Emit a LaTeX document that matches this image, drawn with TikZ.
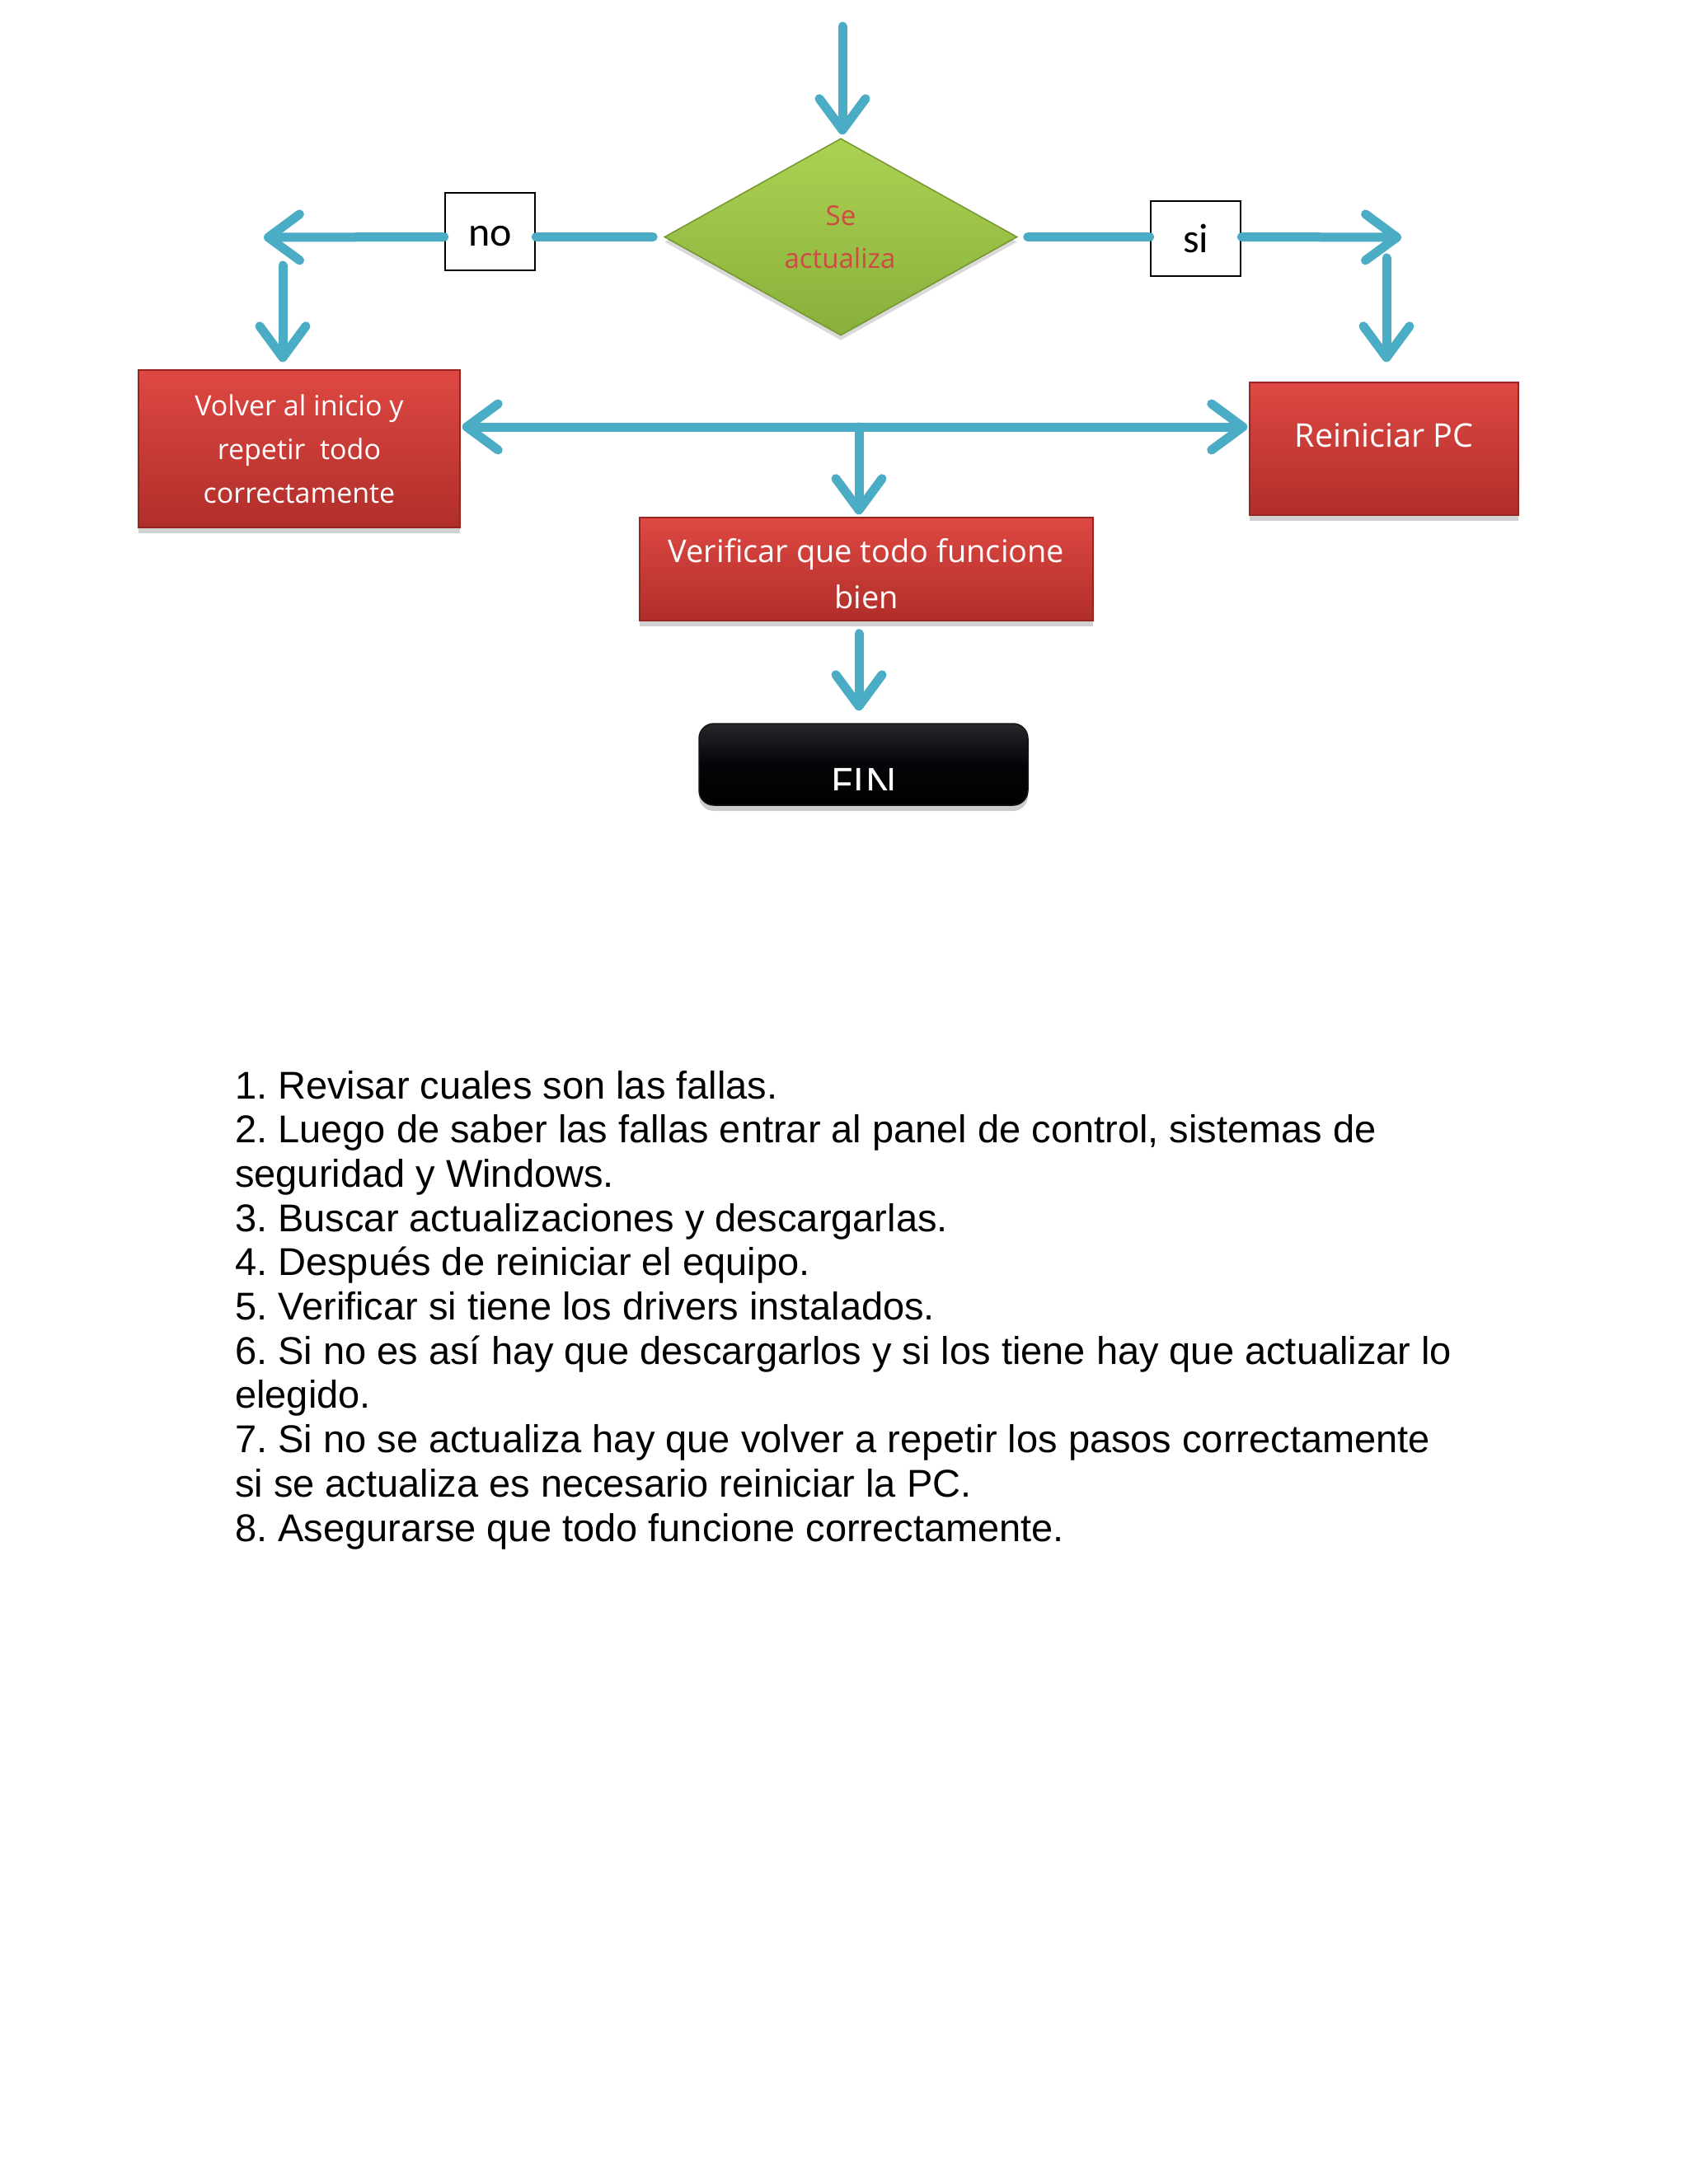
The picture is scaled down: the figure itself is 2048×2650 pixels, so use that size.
\documentclass[tikz,border=0pt]{standalone}
\usepackage{fontspec}
\setmainfont{Liberation Sans}
\newfontfamily\boxfont{Open Sans}
\newfontfamily\lblfont{Carlito}
\usetikzlibrary{arrows.meta,shapes.geometric,shadows}
\definecolor{arrowblue}{HTML}{4BACC6}
\definecolor{redtop}{RGB}{222,72,66}
\definecolor{redbot}{RGB}{176,46,42}
\definecolor{redline}{RGB}{150,38,36}
\definecolor{greentop}{RGB}{172,210,84}
\definecolor{greenbot}{RGB}{136,176,58}
\definecolor{greenline}{RGB}{118,150,48}
\definecolor{dectext}{RGB}{210,72,66}
\tikzset{
  conn/.style={draw=arrowblue, line width=11pt, line cap=round},
  arr/.style={-{Straight Barb[length=38pt,width=56pt,round]}},
  dblarr/.style={{Straight Barb[length=38pt,width=56pt,round]}-{Straight Barb[length=38pt,width=56pt,round]}},
  redbox/.style={rectangle, inner sep=0pt, top color=redtop, bottom color=redbot,
    draw=redline, line width=1.5pt,
    drop shadow={shadow xshift=0pt, shadow yshift=-7pt, opacity=0.18, fill=black}},
  boxtext/.style={text=white, inner sep=0pt, font=\boxfont},
  lblbox/.style={rectangle, draw=black, line width=2.5pt, fill=white, inner sep=0pt,
    minimum width=109pt, text height=34pt, text depth=0pt, font=\lblfont\fontsize{50}{56}\selectfont},
  listline/.style={anchor=base west, inner sep=0pt, font=\fontsize{47}{54}\selectfont}
}
\frenchspacing
\begin{document}
\begin{tikzpicture}[x=1pt,y=-1pt]
\useasboundingbox (0,0) rectangle (2048,2650);
\fill[white] (0,0) rectangle (2048,2650);

% decision
\node[diamond, minimum width=428pt, minimum height=239pt, inner sep=0pt,
  top color=greentop, bottom color=greenbot, draw=greenline, line width=1.5pt,
  drop shadow={shadow xshift=0pt, shadow yshift=-6pt, opacity=0.15, fill=black}]
  (dec) at (1020,287.5) {};
\node[anchor=base, inner sep=0pt, text=dectext, font=\boxfont\fontsize{33}{38}\selectfont] (dse) at (1020,273) {Se};
\node[anchor=base, inner sep=0pt, text=dectext, font=\boxfont\fontsize{33}{38}\selectfont] (dact) at (1019,325) {actualiza};

% labels
\node[lblbox, minimum height=94pt] (no) at (594.5,281) {no};
\node[lblbox, minimum height=91pt] (si) at (1450.5,289.5) {si};

% process boxes
\node[redbox, minimum width=390pt, minimum height=191pt, align=center,
  boxtext, font=\boxfont\fontsize{34}{53}\selectfont] (volver) at (363,544.5)
  {Volver al inicio y\\repetir\ \ todo\\correctamente};
\node[redbox, minimum width=326pt, minimum height=161pt] (reiniciar) at (1679,544.5) {};
\node[boxtext, anchor=base, font=\boxfont\fontsize{39.5}{45}\selectfont] (treiniciar) at (1679,542) {Reiniciar PC};
\node[redbox, minimum width=550pt, minimum height=125pt] (verificar) at (1051,690.5) {};
\node[boxtext, anchor=base, font=\boxfont\fontsize{38}{44}\selectfont] (tver1) at (1051,682) {Verificar que todo funcione};
\node[boxtext, anchor=base, font=\boxfont\fontsize{38}{44}\selectfont] (tver2) at (1051,738) {bien};

% FIN
\node[rectangle, rounded corners=18pt, minimum width=399pt, minimum height=99pt, inner sep=0pt,
  top color={rgb,255:red,40;green,38;blue,42}, bottom color=black, middle color={rgb,255:red,6;green,4;blue,8},
  draw={rgb,255:red,20;green,20;blue,20}, line width=1.5pt,
  drop shadow={shadow xshift=0pt, shadow yshift=-7pt, opacity=0.2, fill=black}]
  (fin) at (1047.5,927.5) {};
\begin{scope}
  \clip (848,878) rectangle (1247,958);
  \node[boxtext, anchor=north, font=\boxfont\fontsize{52}{60}\selectfont] (tfin) at (1048,932) {FIN};
\end{scope}

% coordinates for connector ends
\coordinate (top) at (1022,32);
\coordinate (lTip) at (320,288);
\coordinate (lDown) at (343,322);
\coordinate (rTip) at (1700,288);
\coordinate (rDown) at (1682,313);
\coordinate (hub) at (1042,518);

% connectors
\draw[conn,arr,shorten >=4pt] (top) -- (top |- dec.north);
\draw[conn] ([xshift=-13pt]dec.west) -- (dec.west -| no.east);
\draw[conn,arr] (dec.west -| no.west) -- (lTip);
\draw[conn,arr,shorten >=9pt] (lDown) -- (lDown |- volver.north);
\draw[conn] ([xshift=12pt]dec.east) -- (dec.east -| si.west);
\draw[conn,arr] (dec.east -| si.east) -- (rTip);
\draw[conn,arr,shorten >=24pt] (rDown) -- (rDown |- reiniciar.north);
\draw[conn,dblarr,shorten <=2pt,shorten >=2pt] (volver.east |- hub) -- (reiniciar.west |- hub);
\draw[conn,arr,shorten >=3pt] (hub) -- (hub |- verificar.north);
\draw[conn,arr,shorten <=15pt,shorten >=15pt] (verificar.south -| hub) -- (fin.north -| hub);

% numbered list
\node[listline] (l1) at (285,1333) {1. Revisar cuales son las fallas.};
\node[listline] (l2) at (285,1386.7) {2. Luego de saber las fallas entrar al panel de control, sistemas de};
\node[listline] (l3) at (285,1440.4) {seguridad y Windows.};
\node[listline] (l4) at (285,1494.1) {3. Buscar actualizaciones y descargarlas.};
\node[listline] (l5) at (285,1547.8) {4. Después de reiniciar el equipo.};
\node[listline] (l6) at (285,1601.5) {5. Verificar si tiene los drivers instalados.};
\node[listline] (l7) at (285,1655.2) {6. Si no es así hay que descargarlos y si los tiene hay que actualizar lo};
\node[listline] (l8) at (285,1708.9) {elegido.};
\node[listline] (l9) at (285,1762.6) {7. Si no se actualiza hay que volver a repetir los pasos correctamente};
\node[listline] (l10) at (285,1816.3) {si se actualiza es necesario reiniciar la PC.};
\node[listline] (l11) at (285,1870) {8. Asegurarse que todo funcione correctamente.};
\end{tikzpicture}
\end{document}
